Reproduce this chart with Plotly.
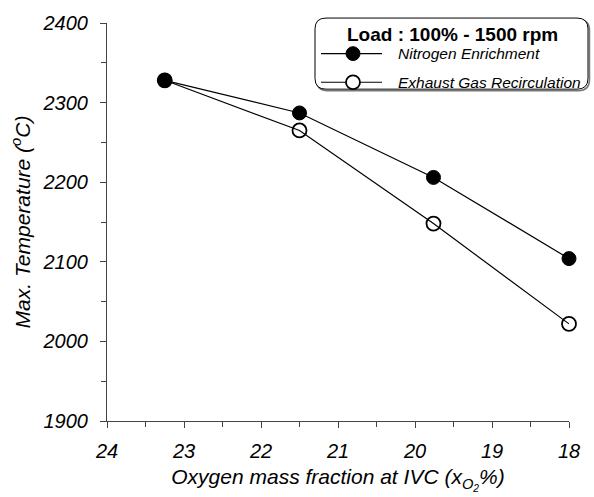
import plotly.graph_objects as go

# Data
o2_fraction = [23.25, 21.5, 19.76, 18.0]
temp_nitrogen = [2328, 2287, 2206, 2104]
temp_egr = [2328, 2265, 2148, 2022]

series_names = ["Nitrogen Enrichment", "Exhaust Gas Recirculation"]
legend_title = "Load : 100% - 1500 rpm"
x_title = "Oxygen mass fraction at IVC (x<sub>O<sub>2</sub></sub>%)"
y_title = "Max. Temperature (<sup>o</sup>C)"

W, H = 594, 497
L, R, T, B = 107, 569, 20, 423  # plot area in pixels

def px(x):
    return (x - L) / (R - L)

def py(y):
    return (B - y) / (B - T)

FONT = "Liberation Sans, Arial, sans-serif"

fig = go.Figure()
fig.add_trace(go.Scatter(
    x=o2_fraction, y=temp_nitrogen, mode="lines+markers", name=series_names[0],
    line=dict(color="black", width=1.2),
    marker=dict(symbol="circle", size=14, color="black", line=dict(color="black", width=1)),
    showlegend=False, cliponaxis=False))
fig.add_trace(go.Scatter(
    x=o2_fraction, y=temp_egr, mode="lines+markers", name=series_names[1],
    line=dict(color="black", width=1.2),
    marker=dict(symbol="circle-open", size=14, color="black", line=dict(color="black", width=1.8)),
    showlegend=False, cliponaxis=False))

# Legend drawn manually (rounded box)
def rrect(x0, y0, x1, y1, r):
    return (f"M {x0+r},{y0} L {x1-r},{y0} Q {x1},{y0} {x1},{y0+r} L {x1},{y1-r} "
            f"Q {x1},{y1} {x1-r},{y1} L {x0+r},{y1} Q {x0},{y1} {x0},{y1-r} "
            f"L {x0},{y0+r} Q {x0},{y0} {x0+r},{y0} Z")

def to_paper_path(x0, y0, x1, y1, r):
    pts = rrect(x0, y0, x1, y1, r).split()
    out = []
    for p in pts:
        if "," in p:
            a, b = p.split(",")
            out.append(f"{px(float(a)):.5f},{py(float(b)):.5f}")
        else:
            out.append(p)
    return " ".join(out)

shapes = []
shapes.append(dict(type="path", xref="paper", yref="paper",
                   path=to_paper_path(316.5, 16.5, 589.5, 88.5, 11),
                   line=dict(color="#777", width=1.5), fillcolor="rgba(0,0,0,0)", layer="above"))
shapes.append(dict(type="path", xref="paper", yref="paper",
                   path=to_paper_path(315, 15, 588, 87, 11),
                   line=dict(color="black", width=1), fillcolor="white", layer="above"))
for yy, filled in [(51, True), (80, False)]:
    shapes.append(dict(type="line", xref="paper", yref="paper",
                       x0=px(321), x1=px(382), y0=py(yy), y1=py(yy),
                       line=dict(color="black", width=1.2), layer="above"))
    shapes.append(dict(type="circle", xref="paper", yref="paper",
                       x0=px(346), x1=px(360), y0=py(yy + 7), y1=py(yy - 7),
                       line=dict(color="black", width=1.8 if not filled else 1),
                       fillcolor="black" if filled else "white", layer="above"))

annotations = [
    dict(text=f"<b>{legend_title}</b>", xref="paper", yref="paper", x=px(452), y=py(32),
         showarrow=False, xanchor="center", yanchor="middle",
         font=dict(family=FONT, size=19, color="black")),
    dict(text=series_names[0], xref="paper", yref="paper", x=px(396), y=py(51),
         showarrow=False, xanchor="left", yanchor="middle",
         font=dict(family=FONT, size=15.5, color="black", style="italic")),
    dict(text=series_names[1], xref="paper", yref="paper", x=px(396), y=py(80),
         showarrow=False, xanchor="left", yanchor="middle",
         font=dict(family=FONT, size=15.5, color="black", style="italic")),
]

axis_common = dict(
    showline=True, linecolor="#444", linewidth=1.2, mirror=False,
    showgrid=False, zeroline=False,
    ticks="outside", ticklen=6, tickwidth=1, tickcolor="#444",
    tickfont=dict(family=FONT, size=20, color="black", style="italic"),
)

fig.update_layout(
    width=W, height=H,
    margin=dict(l=L, r=W - R, t=T, b=H - B),
    paper_bgcolor="white", plot_bgcolor="white",
    xaxis=dict(range=[24, 18], tick0=18, dtick=1, ticklabelstandoff=6,
               minor=dict(ticks="outside", ticklen=5, tickcolor="#444", dtick=0.5, tick0=18),
               title=dict(text=x_title, font=dict(family=FONT, size=21, color="black", style="italic"),
                          standoff=8),
               **axis_common),
    yaxis=dict(range=[1900, 2400], tick0=1900, dtick=100, ticklabelstandoff=8,
               minor=dict(ticks="outside", ticklen=5, tickcolor="#444", dtick=50, tick0=1900),
               title=dict(text=y_title, font=dict(family=FONT, size=21, color="black", style="italic"),
                          standoff=6),
               **axis_common),
    shapes=shapes, annotations=annotations, showlegend=False,
)

fig.write_html("out.html")
